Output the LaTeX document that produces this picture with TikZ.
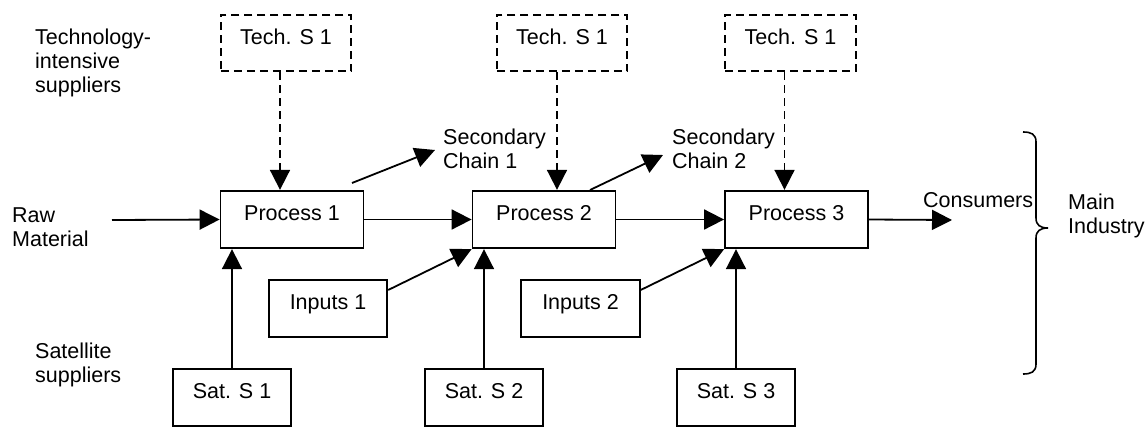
\documentclass[tikz,border=0pt]{standalone}
\usepackage{fontspec}
\setmainfont{Liberation Sans}
\usetikzlibrary{arrows.meta,calc}
\begin{document}
\begin{tikzpicture}[x=1pt,y=-1pt,
  every node/.style={font=\fontsize{21.5}{24}\selectfont, inner sep=0pt},
  box/.style={draw, line width=1.8pt, text height=15pt, text depth=13pt, minimum height=57.5pt},
  techbox/.style={box, dash pattern=on 8pt off 5pt, minimum width=130.5pt, minimum height=56.5pt},
  procbox/.style={box, minimum width=143pt},
  smallbox/.style={box, minimum width=118.5pt},
  arr/.style={line width=1.8pt, -{Triangle[length=20pt,width=20pt]}},
  darr/.style={arr, dash pattern=on 8pt off 5pt},
  lbl/.style={anchor=base west}]
\useasboundingbox (0,0) rectangle (1147,426);
% technology-intensive suppliers
\node[techbox] (t1) at (286,43) {Tech. S 1};
\node[techbox] (t2) at (562,43) {Tech. S 1};
\node[techbox] (t3) at (790.5,43) {Tech. S 1};
% processes
\node[procbox] (p1) at (292,219.5) {Process 1};
\node[procbox] (p2) at (544,219.5) {Process 2};
\node[procbox] (p3) at (796.5,219.5) {Process 3};
% inputs
\node[smallbox] (i1) at (328,308.5) {Inputs 1};
\node[smallbox] (i2) at (580.5,308.5) {Inputs 2};
% satellite suppliers
\node[smallbox] (s1) at (232,397.5) {Sat. S 1};
\node[smallbox] (s2) at (484,397.5) {Sat. S 2};
\node[smallbox] (s3) at (736,397.5) {Sat. S 3};
% labels
\node[lbl] (ltech) at (35,44) {\begin{tabular}[t]{@{}l@{}}Technology-\\intensive\\suppliers\end{tabular}};
\node[lbl] (lraw) at (12,222) {\begin{tabular}[t]{@{}l@{}}Raw\\Material\end{tabular}};
\node[lbl] (lsat) at (35,358) {\begin{tabular}[t]{@{}l@{}}Satellite\\suppliers\end{tabular}};
\node[lbl] (lsc1) at (443,144) {\begin{tabular}[t]{@{}l@{}}Secondary\\Chain 1\end{tabular}};
\node[lbl] (lsc2) at (672,144) {\begin{tabular}[t]{@{}l@{}}Secondary\\Chain 2\end{tabular}};
\node[lbl] (lcons) at (923,207) {Consumers};
\node[lbl] (lmain) at (1068,209) {\begin{tabular}[t]{@{}l@{}}Main\\Industry\end{tabular}};
% free ends
\coordinate (rawstart) at (112,220);
\coordinate (consend) at (952,220);
\coordinate (sc1a) at (352,183);
\coordinate (sc1b) at (435,150);
\coordinate (sc2a) at (590,190);
\coordinate (sc2b) at (663,155);
% connectors
\draw[darr] ([xshift=-6pt]t1.south) -- ([xshift=-6pt]t1.south |- p1.north);
\draw[darr] ([xshift=-5pt]t2.south) -- ([xshift=-5pt]t2.south |- p2.north);
\draw[darr] ([xshift=-6pt]t3.south) -- ([xshift=-6pt]t3.south |- p3.north);
\draw[arr] (rawstart) -- (p1.west);
\draw[arr] (p1.east) -- (p2.west);
\draw[arr] (p2.east) -- (p3.west);
\draw[arr] (p3.east) -- (consend);
\draw[arr] (sc1a) -- (sc1b);
\draw[arr] (sc2a) -- (sc2b);
\draw[arr] ([yshift=18.5pt]i1.east) -- (p2.south west);
\draw[arr] ([yshift=18.5pt]i2.east) -- (p3.south west);
\draw[arr] (s1.north) -- (s1.north |- p1.south);
\draw[arr] (s2.north) -- (s2.north |- p2.south);
\draw[arr] (s3.north) -- (s3.north |- p3.south);
% brace
\draw[line width=1.6pt] (1023,132) .. controls (1031,132) and (1036,134) .. (1036,142)
  -- (1036,218) .. controls (1036,225) and (1040,228) .. (1048,228)
  .. controls (1040,228) and (1036,231) .. (1036,238)
  -- (1036,364) .. controls (1036,372) and (1031,374) .. (1023,374);
\end{tikzpicture}
\end{document}
